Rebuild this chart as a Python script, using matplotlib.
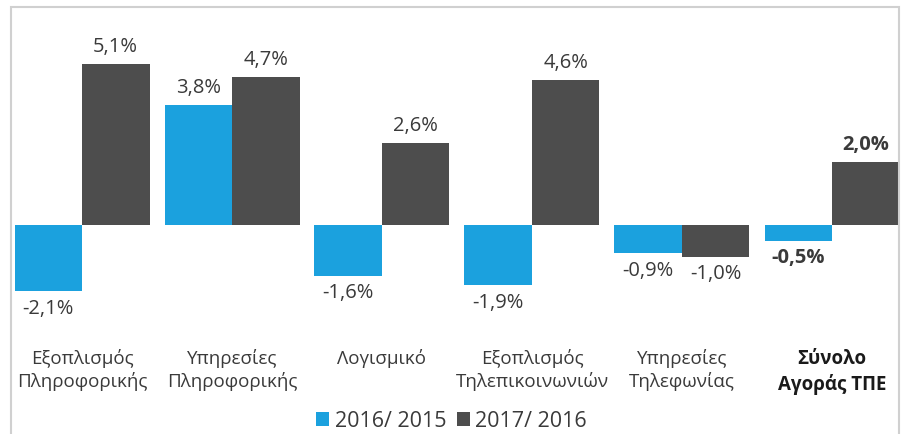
import matplotlib
matplotlib.use('Agg')
import matplotlib.pyplot as plt
from matplotlib.patches import Rectangle, Patch
import numpy as np

plt.rcParams['font.family'] = ['Open Sans', 'DejaVu Sans']

categories = ['Εξοπλισμός\nΠληροφορικής', 'Υπηρεσίες\nΠληροφορικής', 'Λογισμικό',
              'Εξοπλισμός\nΤηλεπικοινωνιών', 'Υπηρεσίες\nΤηλεφωνίας', 'Σύνολο\nΑγοράς ΤΠΕ']
s2016 = [-2.1, 3.8, -1.6, -1.9, -0.9, -0.5]
s2017 = [5.1, 4.7, 2.6, 4.6, -1.0, 2.0]
series_names = ['2016/ 2015', '2017/ 2016']
colors = ['#1ba1de', '#4d4d4d']

W, H = 903, 435
fig = plt.figure(figsize=(W / 100, H / 100), dpi=100)

# axes placement in pixels: zero line at y=226, 31.57 px per %
ymin, ymax = -3.5, 6.0
ppu = 31.57
top_px = 226 - ymax * ppu
bot_px = 226 - ymin * ppu
left_px, right_px = 14.5, 899.5
ax = fig.add_axes([left_px / W, 1 - bot_px / H, (right_px - left_px) / W, (bot_px - top_px) / H])

x = np.arange(len(categories))
bw = 0.45
b1 = ax.bar(x - bw / 2, s2016, bw, color=colors[0], edgecolor='none')
b2 = ax.bar(x + bw / 2, s2017, bw, color=colors[1], edgecolor='none')

ax.set_xlim(-0.45, 5.45)
ax.set_ylim(ymin, ymax)
for s in ax.spines.values():
    s.set_visible(False)
ax.set_yticks([])
ax.set_xticks(x)
ax.set_xticklabels(categories, fontsize=13.5, color='#3a3a3a', linespacing=1.3)
ax.tick_params(axis='x', length=0, pad=9)
ax.get_xticklabels()[-1].set_fontweight('bold')
ax.get_xticklabels()[-1].set_color('#1a1a1a')

for bars, vals in ((b1, s2016), (b2, s2017)):
    for i, (r, v) in enumerate(zip(bars, vals)):
        off = 13 if v >= 0 else -12
        ax.annotate(('%.1f%%' % v).replace('.', ','),
                    (r.get_x() + r.get_width() / 2, v),
                    xytext=(0, off), textcoords='offset points',
                    ha='center', va='center', fontsize=14.5, color='#3a3a3a',
                    fontweight='bold' if i == len(vals) - 1 else 'normal',
                    annotation_clip=False)

handles = [Patch(facecolor=c, edgecolor='none') for c in colors]
fig.legend(handles, series_names, loc='center', bbox_to_anchor=(0.5, 1 - 422 / H),
           ncol=2, frameon=False, fontsize=15.5, handlelength=0.6, handleheight=0.6,
           handletextpad=0.25, columnspacing=0.5, labelcolor='#3a3a3a')

# light frame around the chart
fig.patches.append(Rectangle((11 / W, -0.1), (899 - 11) / W, 1.1 - 8 / H,
                             transform=fig.transFigure, fill=False,
                             edgecolor='#d0d0d0', linewidth=1.5))

fig.savefig('out.png', dpi=100)
